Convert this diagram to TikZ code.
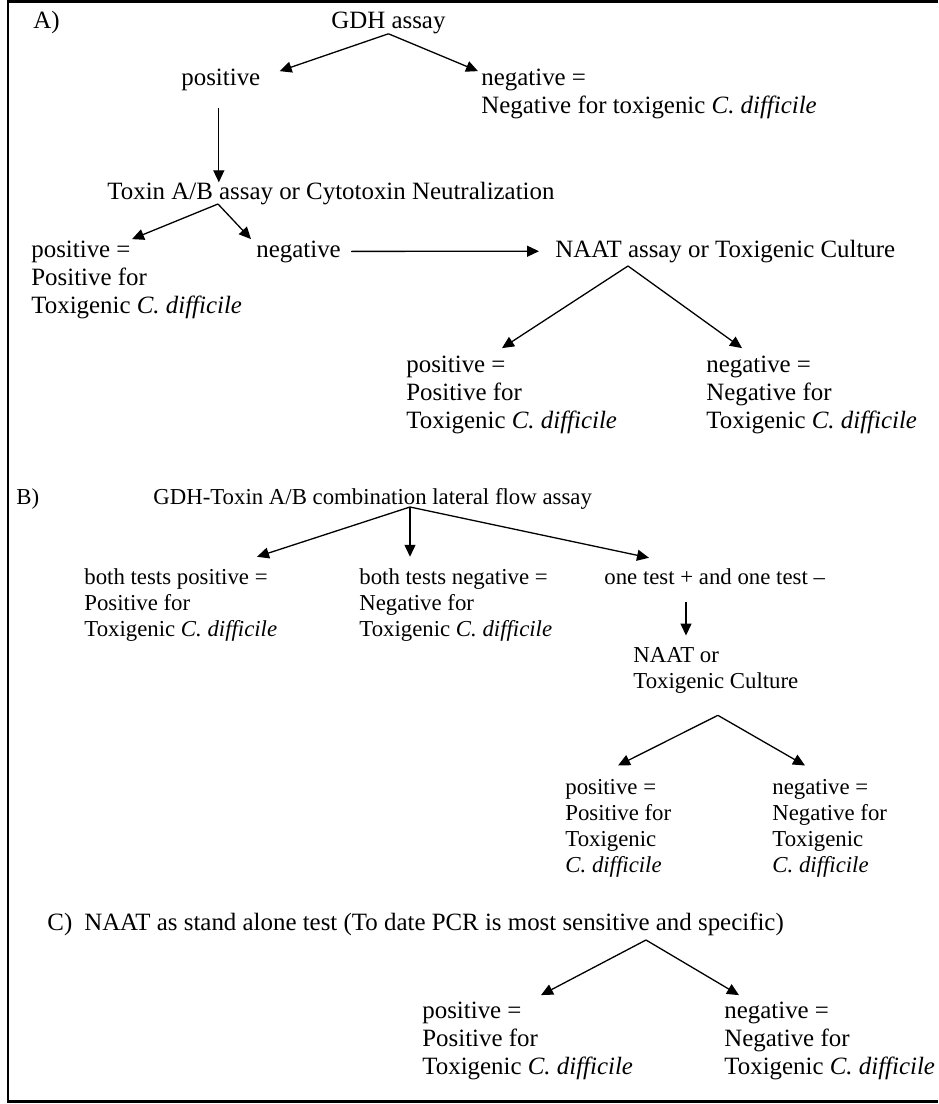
\documentclass[tikz,border=0pt]{standalone}
\usepackage{fontspec}
\setmainfont{Liberation Serif}
\usepackage{tikz}
\usetikzlibrary{arrows.meta, positioning, calc}
\newcommand{\cdiff}{\textit{C. difficile}}
\tikzset{
  lbl/.style={anchor=base west, inner sep=0pt, align=left,
    font=\fontsize{12.45}{14}\selectfont},
  lblsm/.style={anchor=base west, inner sep=0pt, align=left,
    font=\fontsize{11.4}{13}\selectfont},
  arrow/.style={-{Triangle[length=6pt, width=5.5pt]}, line width=0.65pt},
  frame/.style={line width=1.3pt}
}

\begin{document}
\begin{tikzpicture}[x=0.5pt, y=-0.5pt]
  \useasboundingbox (0,0) rectangle (938,1104);
  % Outer frame
  \draw[frame] (938,1.5) -- (8,1.5) -- (8,1101.5) -- (938,1101.5);

  % Panel A (multi-line nodes sit on their last baseline)
  \node[lbl] (lblA) at (33,28) {A)};
  \node[lbl] (gdh) at (331,28) {GDH assay};
  \node[lbl] (apos) at (181,85) {positive};
  \node[lbl] (aneg) at (481,113) {negative =\\Negative for toxigenic \cdiff};
  \node[lbl] (toxin) at (107,199) {Toxin A/B assay or Cytotoxin Neutralization};
  \node[lbl] (tpos) at (31,313) {positive =\\Positive for\\Toxigenic \cdiff};
  \node[lbl] (tneg) at (256,257) {negative};
  \node[lbl] (naat) at (555,257) {NAAT assay or Toxigenic Culture};
  \node[lbl] (npos) at (406,428) {positive =\\Positive for\\Toxigenic \cdiff};
  \node[lbl] (nneg) at (706,428) {negative =\\Negative for\\Toxigenic \cdiff};

  \draw[arrow] (gdh.south) -- ([shift={(19,3)}]apos.north east);
  \draw[arrow] (gdh.south) -- ([shift={(-3,3)}]aneg.north west);
  \draw[arrow] ([shift={(-2,17)}]apos.south) -- ($(apos.south |- toxin.north)+(-2,1)$);
  \draw[arrow] ([shift={(111,5)}]toxin.base west) -- ([shift={(101,-1)}]tpos.north west);
  \draw[arrow] ([shift={(111,5)}]toxin.base west) -- ([shift={(-5,-1)}]tneg.north west);
  \draw[arrow, shorten <=5pt, shorten >=8pt] (tneg) -- (naat);
  \draw[arrow] ([shift={(73,9)}]naat.base west) -- ([shift={(96,-7)}]npos.north west);
  \draw[arrow] ([shift={(73,9)}]naat.base west) -- ([shift={(36,-7)}]nneg.north west);

  % Panel B
  \node[lblsm] (lblB) at (16,504) {B)};
  \node[lblsm] (bgdh) at (153,504) {GDH-Toxin A/B combination lateral flow assay};
  \node[lblsm] (bpos) at (84,636) {both tests positive =\\Positive for\\Toxigenic \cdiff};
  \node[lblsm] (bneg) at (359,636) {both tests negative =\\Negative for\\Toxigenic \cdiff};
  \node[lblsm] (bone) at (604,584) {one test + and one test --};
  \node[lblsm] (bnaat) at (633,688) {NAAT or\\Toxigenic Culture};
  \node[lblsm] (bnpos) at (565,872) {positive =\\Positive for\\Toxigenic\\\cdiff};
  \node[lblsm] (bnneg) at (772,872) {negative =\\Negative for\\Toxigenic\\\cdiff};

  \draw[arrow] ([shift={(257,3)}]bgdh.base west) -- ([shift={(173,-11)}]bpos.north west);
  \draw[arrow] ([shift={(257,3)}]bgdh.base west) -- ([shift={(51,-11)}]bneg.north west);
  \draw[arrow] ([shift={(257,3)}]bgdh.base west) -- ([shift={(45,-10)}]bone.north west);
  \draw[arrow] ([shift={(82,18)}]bone.base west) -- ([shift={(53,-11)}]bnaat.north west);
  \draw[arrow] ([shift={(2,22)}]bnaat.south) -- ([shift={(53,-13)}]bnpos.north west);
  \draw[arrow] ([shift={(2,22)}]bnaat.south) -- ([shift={(33,-13)}]bnneg.north west);

  % Panel C
  \node[lbl] (ctitle) at (47,930) {C)\hspace{6pt}NAAT as stand alone test (To date PCR is most sensitive and specific)};
  \node[lbl] (cpos) at (422,1074) {positive =\\Positive for\\Toxigenic \cdiff};
  \node[lbl] (cneg) at (724,1074) {negative =\\Negative for\\Toxigenic \cdiff};

  \draw[arrow] ([shift={(599,10)}]ctitle.base west) -- ([shift={(119,-6)}]cpos.north west);
  \draw[arrow] ([shift={(599,10)}]ctitle.base west) -- ([shift={(15,-6)}]cneg.north west);
\end{tikzpicture}
\end{document}
